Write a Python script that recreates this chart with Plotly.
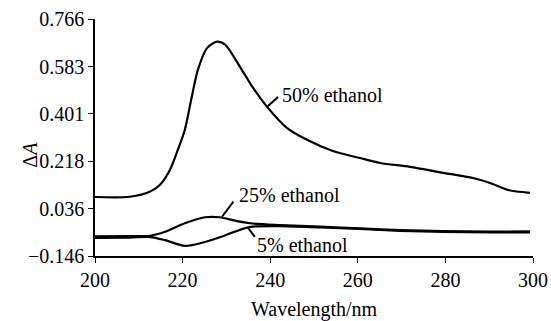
import plotly.graph_objects as go

# Data
wl_50 = [200, 208, 212.6, 214.8, 217.1, 218.9, 220.5, 222.1, 223.5, 225.6, 227.9, 229.7,
         233.1, 236.1, 239.3, 243.8, 248.4, 254.3, 260.5, 265.1, 271.9, 279.5, 286.3,
         290.2, 294.3, 299.3]
abs_50 = [0.081, 0.082, 0.102, 0.127, 0.185, 0.262, 0.339, 0.467, 0.571, 0.655, 0.679, 0.667,
          0.582, 0.501, 0.428, 0.347, 0.301, 0.258, 0.231, 0.212, 0.197, 0.174, 0.154,
          0.135, 0.108, 0.097]

wl_25 = [200, 208, 212.6, 216, 220.5, 225.1, 228.5, 232, 235.4, 242.2, 251.4, 260.5,
         269.6, 279.5, 290.2, 299.3]
abs_25 = [-0.070, -0.069, -0.068, -0.053, -0.020, 0.003, 0.003, -0.010, -0.020, -0.027,
          -0.033, -0.040, -0.046, -0.050, -0.052, -0.051]

wl_5 = [200, 208, 212.6, 216, 220.5, 224, 228.5, 232, 235.4, 242.2, 251.4, 260.5,
        269.6, 279.5, 290.2, 299.3]
abs_5 = [-0.076, -0.075, -0.073, -0.085, -0.107, -0.097, -0.074, -0.052, -0.034, -0.031,
         -0.036, -0.042, -0.049, -0.053, -0.055, -0.055]

x_ticks = [200, 220, 240, 260, 280, 300]
y_ticks = [-0.146, 0.036, 0.218, 0.401, 0.583, 0.766]
y_tick_labels = ["\u22120.146", "0.036", "0.218", "0.401", "0.583", "0.766"]

FONT = "serif"
FS = 20
fig = go.Figure()
for wl, ab in [(wl_5, abs_5), (wl_25, abs_25), (wl_50, abs_50)]:
    fig.add_trace(go.Scatter(x=wl, y=ab, mode="lines", line=dict(color="black", width=2.2),
                             line_shape="spline", line_smoothing=0.8, showlegend=False))

labels = [
    ("50% ethanol", 242.3, 0.474, (239.3, 0.428, 241.8, 0.466)),
    ("25% ethanol", 232.4, 0.089, (229.0, 0.005, 231.6, 0.063)),
    ("5% ethanol", 236.6, -0.104, (234.9, -0.037, 236.5, -0.072)),
]
for text, tx, ty, (x0, y0, x1, y1) in labels:
    fig.add_shape(type="line", x0=x0, y0=y0, x1=x1, y1=y1, xref="x", yref="y",
                  line=dict(color="black", width=2))
    fig.add_annotation(x=tx, y=ty, text=text, showarrow=False, xanchor="left",
                       yanchor="middle", font=dict(family=FONT, size=FS, color="black"))

fig.add_annotation(x=0.5, y=-0.224, xref="paper", yref="paper", text="Wavelength/nm",
                   showarrow=False, yanchor="middle",
                   font=dict(family=FONT, size=FS, color="black"))
fig.add_annotation(x=-0.179, y=0.426, xref="paper", yref="paper", text="\u0394<i>A</i>",
                   showarrow=False, textangle=-90,
                   font=dict(family=FONT, size=FS, color="black"))

fig.update_xaxes(range=[200, 300], tickvals=x_ticks, ticks="outside", ticklen=5,
                 tickcolor="black", showline=True, linecolor="black", linewidth=1.5,
                 showgrid=False, zeroline=False, automargin=False,
                 tickfont=dict(family=FONT, size=FS, color="black"))
fig.update_yaxes(range=[-0.146, 0.766], tickvals=y_ticks, ticktext=y_tick_labels,
                 ticks="outside", ticklen=5, tickcolor="black", showline=True,
                 linecolor="black", linewidth=1.5, showgrid=False, zeroline=False,
                 automargin=False, tickfont=dict(family=FONT, size=FS, color="black"))
fig.update_layout(template="none", width=551, height=321,
                  font=dict(family=FONT, size=FS, color="black"),
                  margin=dict(l=95, r=18, t=19, b=65),
                  plot_bgcolor="white", paper_bgcolor="white")
fig.write_html("out.html")
